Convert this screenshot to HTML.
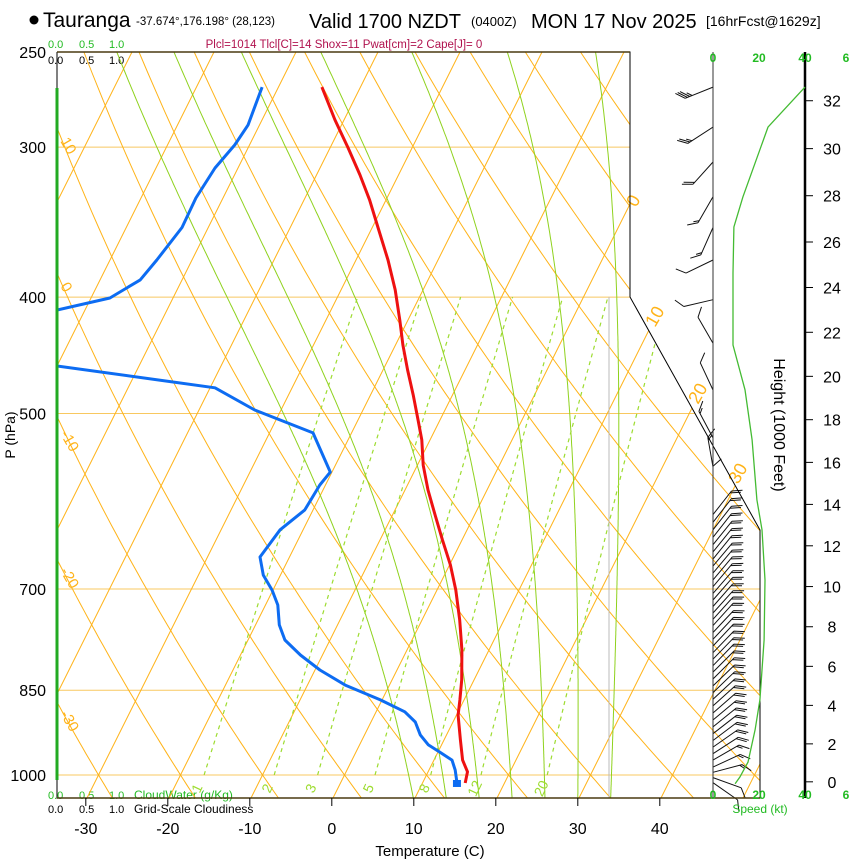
<!DOCTYPE html>
<html><head><meta charset="utf-8"><style>
body{margin:0;background:#fff}
svg{display:block;font-family:"Liberation Sans",Arial,sans-serif}
</style></head><body>
<svg id="chart" width="850" height="860" viewBox="0 0 850 860" xmlns="http://www.w3.org/2000/svg">
<defs><clipPath id="plotclip"><polygon points="57,52 630,52 630,297 760,530 760,798 57,798"/></clipPath></defs>
<g id="title">
<circle cx="34" cy="20" r="4.5" fill="#000"/>
<text x="43" y="27" font-size="21">Tauranga</text>
<text x="136" y="25" font-size="11.5">-37.674°,176.198° (28,123)</text>
<text x="309" y="28" font-size="20">Valid 1700 NZDT</text>
<text x="471" y="26" font-size="13">(0400Z)</text>
<text x="531" y="28" font-size="20">MON 17 Nov 2025</text>
<text x="706" y="26" font-size="14">[16hrFcst@1629z]</text>
</g>
<text x="344" y="48" font-size="11.5" fill="#b0124e" text-anchor="middle">Plcl=1014 Tlcl[C]=14 Shox=11 Pwat[cm]=2 Cape[J]= 0</text>
<g font-size="11">
<text x="48" y="48" fill="#22bb22">0.0</text><text x="79" y="48" fill="#22bb22">0.5</text><text x="109" y="48" fill="#22bb22">1.0</text>
<text x="48" y="64" fill="#000">0.0</text><text x="79" y="64" fill="#000">0.5</text><text x="109" y="64" fill="#000">1.0</text>
</g>
<g font-size="11">
<text x="48" y="799" fill="#22bb22">0.0</text><text x="79" y="799" fill="#22bb22">0.5</text><text x="109" y="799" fill="#22bb22">1.0</text><text x="134" y="799" fill="#22bb22" font-size="12">CloudWater (g/Kg)</text>
<text x="48" y="813" fill="#000">0.0</text><text x="79" y="813" fill="#000">0.5</text><text x="109" y="813" fill="#000">1.0</text><text x="134" y="813" fill="#000" font-size="12">Grid-Scale Cloudiness</text>
</g>
<g id="grid" clip-path="url(#plotclip)"></g>
<g id="marks"></g>
<text x="430" y="856" font-size="15" text-anchor="middle">Temperature (C)</text>
<text transform="translate(15,435) rotate(-90)" font-size="14" text-anchor="middle">P (hPa)</text>
<text transform="translate(774,425) rotate(90)" font-size="16" text-anchor="middle">Height (1000 Feet)</text>
<text x="760" y="813" font-size="12" fill="#22bb22" text-anchor="middle">Speed (kt)</text>
</svg>
<script>
const tempP=[1015.5,994,972,935,891.5,866,833.5,787,743,701.5,668.5,637,607.5,579,552,526,506,482.5,460,438.5,418,394.5,372.5,350,332,316.5,300.5,284.8,267.4];
const tempT=[15.2,14.8,13.5,12.0,10.2,9.5,8.5,6.7,4.6,2.3,0.1,-2.4,-4.8,-7.2,-9.3,-11.0,-12.7,-14.8,-17.0,-19.1,-21.0,-23.4,-26.1,-29.3,-32.0,-34.7,-37.8,-41.1,-44.7];
const dewP=[1015.5,990.7,972,957,944,926,903.5,886,866,841.7,817.7,794.5,772,750,721.9,701.5,681.6,658.4,649.7,625,601.6,573.5,559.5,519,496.7,476,456.5,434,410,400.7,387,372.5,350,330.8,312.3,298.8,287.6,267.4];
const dewT=[14.2,13.2,12.2,10.2,8.4,6.8,5.4,3.5,-0.2,-5.4,-9.4,-12.7,-15.5,-17.1,-18.5,-20.1,-22.1,-23.6,-23.4,-22.8,-21.0,-20.7,-20.2,-24.7,-33.2,-39.4,-60.0,-90,-63.4,-57.7,-55.1,-54.3,-53.2,-53.3,-52.8,-51.8,-51.4,-52.0];
const spdP=[1017,1004,975.6,917,866,772,688,625,590,526,477.8,438.5,418,381.9,349.7,330.1,288.7,267.4];
const spdV=[9.6,11.7,15.2,18.3,20.4,22.2,22.6,21.3,19.1,17.0,13.9,8.7,8.7,8.7,9.1,13,23.9,40];
const barbP=[1015,1005,995,985,972,960,948,936,924,912,900,888,876,865,854,843,832,821,811,801,791,781,771,761,751,742,733,724,715,706,697,688,679,670,661,652,643,634,625,616,607,586,554,524,478,437,402,372.5,350,330,308.7,288.7,267.4];
const barbDir=[125,110,75,65,60,57,55,53,52,51,50,49,48,47,46,46,45,45,44,44,44,43,43,43,42,42,42,41,41,41,40,40,40,40,39,39,39,38,38,38,38,0,350,332,335,330,257,244,204,210,222,237,248];
const barbSpd=[10,12,15,16,17,18,19,20,20,20,21,21,21,22,22,22,22,22,22,22,22,22,22,22,22,22,22,21,21,21,21,20,20,20,20,20,20,20,20,20,20,10,15,15,10,10,10,10,15,15,20,25,35];
const pressLabels=[250,300,400,500,700,850,1000];
const tempTicks=[-30,-20,-10,0,10,20,30,40];
const heightTicks=[0,2,4,6,8,10,12,14,16,18,20,22,24,26,28,30,32];
const mixRatios=[1,2,3,5,8,12,20];
const moistStart=[10,14,18,22,26,30,34];
const dryThetas=[-60,-50,-40,-30,-20,-10,0,10,20,30,40,50,60,70,80,90,100,110,120,130,140,150,160,170,180,190,200];
const isotherms=[-110,-100,-90,-80,-70,-60,-50,-40,-30,-20,-10,0,10,20,30,40,50];

const NS='http://www.w3.org/2000/svg';
const svg=document.getElementById('chart');
const grid=document.getElementById('grid');
const marks=document.getElementById('marks');
function yP(p){return 52+521.5*Math.log(p/250);}
function xT(T,p){return 333+8.2*T+0.5*(798-yP(p));}
function el(tag,attrs,parent){const e=document.createElementNS(NS,tag);for(const k in attrs)e.setAttribute(k,attrs[k]);parent.appendChild(e);return e;}
function pathFrom(pts){return pts.map((q,i)=>(i?'L':'M')+q[0].toFixed(1)+','+q[1].toFixed(1)).join('');}
const ORANGE='#ffb318', GREEN='#8fd21e';

[250,300,400,500,700,850,1000].forEach(p=>{
  const l=el('line',{x1:57,x2:760,y1:yP(p),y2:yP(p),stroke:'#f8c860','stroke-width':1},grid);
  
  
});
isotherms.forEach(T=>{
  const l=el('line',{x1:xT(T,1050),y1:yP(1050),x2:xT(T,250),y2:yP(250),stroke:ORANGE,'stroke-width':1},grid);
  
  
});
dryThetas.forEach(th=>{
  const pts=[];for(let p=1050;p>=249;p-=10){const T=(th+273.15)*Math.pow(p/1000,0.2857)-273.15;pts.push([xT(T,p),yP(p)]);}
  const l=el('path',{d:pathFrom(pts),fill:'none',stroke:ORANGE,'stroke-width':1},grid);
  
  
});
function es(Tc){return 6.112*Math.exp(17.67*Tc/(Tc+243.5));}
moistStart.forEach(T0=>{
  let T=T0+273.15;const pts=[];
  for(let p=1050;p>=250;p-=2){
    pts.push([xT(T-273.15,p),yP(p)]);
    const e=es(T-273.15),rs=0.622*e/(p-e);
    const num=287*T+2.5e6*rs, den=1004+2.5e6*2.5e6*rs*0.622/(287*T*T);
    T+= (num/den)/p*(-2);
  }
  const l=el('path',{d:pathFrom(pts),fill:'none',stroke:GREEN,'stroke-width':1},grid);
  
  
});
function tdFromW(w,p){const e=w*p/(622+w);const a=Math.log(e/6.112);return 243.5*a/(17.67-a);}
mixRatios.forEach(w=>{
  const pts=[];for(let p=1000;p>=400;p-=10)pts.push([xT(tdFromW(w,p),p),yP(p)]);
  const l=el('path',{d:pathFrom(pts),fill:'none',stroke:'#9ddc30','stroke-width':1.2,'stroke-dasharray':'4,4'},grid);
  
  
  const x=xT(tdFromW(w,1030),1030)+2,y=yP(1030);
  const t=el('text',{x:x,y:y,'font-size':14,fill:'#9ddc30','text-anchor':'middle',transform:'rotate(-65 '+x+' '+y+')'},svg);
  t.textContent=w;
  
  
});
el('line',{x1:609,x2:609,y1:297,y2:798,stroke:'#bbb','stroke-width':1},grid);
[[10,145],[0,290],[-10,438],[-20,575],[-30,718]].forEach(a=>{
  const t=el('text',{x:60,y:a[1]-4,'font-size':15,fill:ORANGE,transform:'rotate(60 60 '+(a[1]-4)+')'},svg);
  t.textContent=a[0];
  
  
});
[[0,636,208],[10,655,328],[20,698,405],[30,738,485]].forEach(a=>{
  const t=el('text',{x:a[1],y:a[2],'font-size':18,fill:ORANGE,transform:'rotate(-60 '+a[1]+' '+a[2]+')'},svg);
  t.textContent=a[0];
  
  
});
const fr=el('polyline',{points:'57,52 630,52 630,297 760,530 760,798 57,798 57,52',fill:'none',stroke:'#000','stroke-width':1},svg);


el('line',{x1:57,x2:760,y1:798,y2:798,stroke:'#4a3a10','stroke-width':1.5},svg);
el('line',{x1:57,x2:630,y1:52,y2:52,stroke:'#4a3a10','stroke-width':1.5},svg);
const cw=el('line',{x1:57,x2:57,y1:88,y2:780,stroke:'#22aa22','stroke-width':3},svg);


pressLabels.forEach(p=>{
  const t=el('text',{x:46,y:yP(p)+6,'font-size':16,'text-anchor':'end'},svg);
  t.textContent=p;
  
  
});
tempTicks.forEach(T=>{
  const x=xT(T,1050);
  el('line',{x1:x,x2:x,y1:798,y2:806,stroke:'#000'},svg);
  const t=el('text',{x:x,y:834,'font-size':16,'text-anchor':'middle'},svg);
  t.textContent=T;
  
  
});
el('line',{x1:713,x2:713,y1:52,y2:798,stroke:'#333','stroke-width':1},svg);
const ha=el('line',{x1:805,x2:805,y1:52,y2:798,stroke:'#000','stroke-width':2.5},svg);


[[0,713],[20,759],[40,805],[6,846]].forEach(a=>{
  [62,799].forEach(y=>{
    const t=el('text',{x:a[1],y:y,'font-size':12,'font-weight':'bold',fill:'#22bb22','text-anchor':'middle'},svg);
    t.textContent=a[0];
    
    
  });
});
function pFromKft(k){const z=k*304.8;return 1013.25*Math.pow(1-z/44330.8,5.2559);}
heightTicks.forEach(k=>{
  const y=yP(pFromKft(k));
  el('line',{x1:805,x2:813,y1:y,y2:y,stroke:'#000'},svg);
  const t=el('text',{x:832,y:y+6,'font-size':16,'text-anchor':'middle'},svg);
  t.textContent=k;
  
  
});
const sp=el('path',{d:pathFrom(spdP.map((p,i)=>[713+2.3*spdV[i],yP(p)])),fill:'none',stroke:'#44bb33','stroke-width':1.3},svg);


barbP.forEach((p,i)=>{
  const y0=yP(p),x0=713,d=barbDir[i]*Math.PI/180;
  const ux=Math.sin(d),uy=-Math.cos(d),L=30;
  const tx=x0+ux*L,ty=y0+uy*L;
  let s='M'+x0+','+y0.toFixed(1)+'L'+tx.toFixed(1)+','+ty.toFixed(1);
  const a=Math.atan2(uy,ux)+Math.PI*0.27,fx=Math.cos(a),fy=Math.sin(a);
  let v=Math.round(barbSpd[i]/5)*5,pos=0;
  while(v>=10){const bx=tx-ux*pos,by=ty-uy*pos;s+='M'+bx.toFixed(1)+','+by.toFixed(1)+'l'+(fx*11).toFixed(1)+','+(fy*11).toFixed(1);pos+=2.5;v-=10;}
  if(v>=5){const bx=tx-ux*pos,by=ty-uy*pos;s+='M'+bx.toFixed(1)+','+by.toFixed(1)+'l'+(fx*6).toFixed(1)+','+(fy*6).toFixed(1);}
  const b=el('path',{d:s,fill:'none',stroke:'#111','stroke-width':1},marks);
  
  
});
const clipG=el('g',{'clip-path':'url(#plotclip)'},marks);
const dl=el('path',{d:pathFrom(dewP.map((p,i)=>[xT(dewT[i],p),yP(p)])),fill:'none',stroke:'#0d6cf2','stroke-width':3,'stroke-linejoin':'round'},clipG);


const tl=el('path',{d:pathFrom(tempP.map((p,i)=>[xT(tempT[i],p),yP(p)])),fill:'none',stroke:'#ee1111','stroke-width':3,'stroke-linejoin':'round'},clipG);


const sq=el('rect',{x:xT(dewT[0],dewP[0])-4,y:yP(dewP[0])-3,width:8,height:7,fill:'#0d6cf2'},marks);


</script>
</body></html>
